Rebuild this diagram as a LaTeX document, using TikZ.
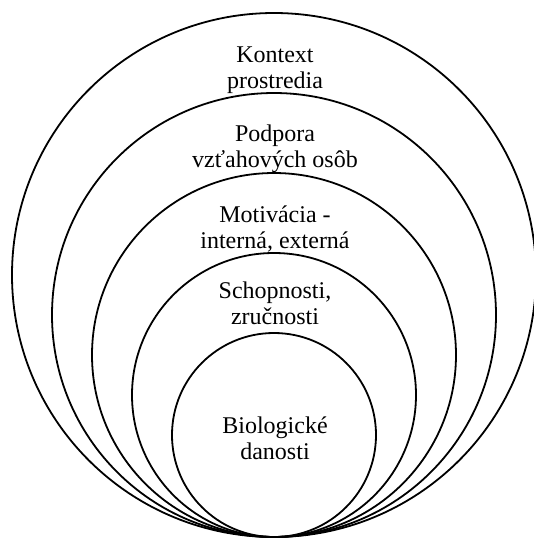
\documentclass[tikz,border=0pt]{standalone}
\usepackage{fontspec}
\setmainfont{Liberation Serif}
\begin{document}
\begin{tikzpicture}[x=1pt, y=-1pt,
    ring/.style={line width=1.8pt},
    lbl/.style={align=center, anchor=base, font=\fontsize{24}{25.5}\selectfont}]
    \useasboundingbox (0, 0) rectangle (534, 539);

    % Nested circles, all touching at the bottom
    \foreach \r in {262, 222, 182, 142, 102}
        \draw [ring] (274, {537-\r}) circle [radius=\r pt];

    % Labels (anchored at the baseline of the last line)
    \node [lbl] (kontext) at (275, 88) {Kontext\\prostredia};
    \node [lbl] (podpora) at (275, 167) {Podpora\\vzťahových osôb};
    \node [lbl] (motivacia) at (275, 248) {Motivácia -\\interná, externá};
    \node [lbl] (schopnosti) at (275, 324) {Schopnosti,\\zručnosti};
    \node [lbl] (danosti) at (275, 459) {Biologické\\danosti};
\end{tikzpicture}
\end{document}
